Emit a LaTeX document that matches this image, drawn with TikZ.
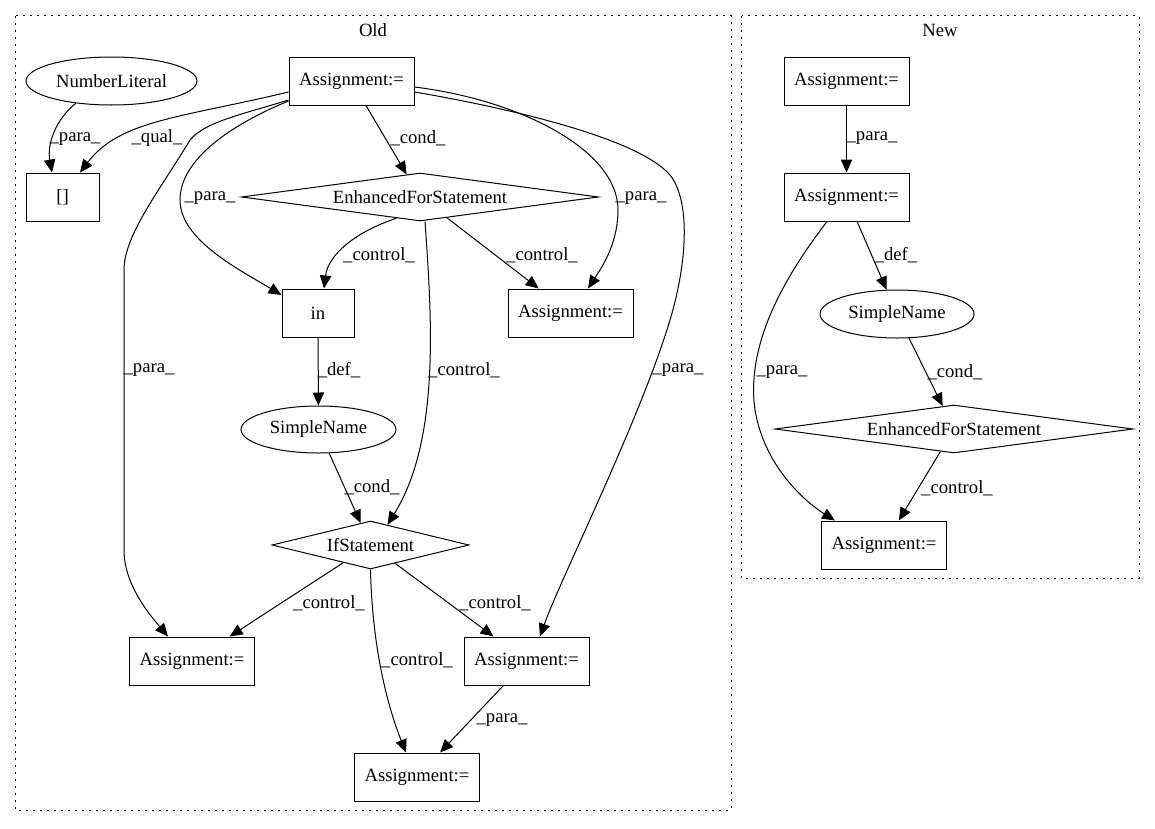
\documentclass[tikz,border=0pt]{standalone}
\usepackage{fontspec}
\setmainfont{Liberation Serif}
\usetikzlibrary{arrows.meta,shapes.geometric}
\begin{document}
\begin{tikzpicture}[x=0.75pt,y=-0.75pt,
  every node/.style={font=\fontsize{14}{16}\selectfont, inner sep=0pt},
  box/.style={draw, line width=0.75pt, rectangle, minimum width=93.75pt, minimum height=36pt},
  oval/.style={draw, line width=0.75pt, ellipse, minimum height=36pt},
  dia/.style={draw, line width=0.75pt, diamond, minimum height=36pt},
  edge/.style={draw, line width=0.75pt, -{Triangle[length=9.75pt,width=8.5pt]}},
  lbl/.style={anchor=center},
  cluster/.style={draw, line width=0.75pt, dash pattern=on 1.5pt off 3.75pt}
]
\useasboundingbox (0,0) rectangle (1155,828);

% clusters
\draw[cluster] (15.7,15.7) rectangle (731,810);
\node (oldlbl) at (373,30) {Old};
\draw[cluster] (741.7,15.7) rectangle (1139,578);
\node (newlbl) at (940,30) {New};

% Old nodes
\node[box] (a1) at (351.5,81) {Assignment:=};
\node[oval, minimum width=128.25pt] (nl) at (111.5,81) {NumberLiteral};
\node[box, minimum width=54.75pt] (br) at (62.5,197) {[]};
\node[dia, minimum width=267.75pt] (efs) at (420,197) {\makebox[0pt]{EnhancedForStatement}};
\node[box, minimum width=54pt] (in) at (318,313) {in};
\node[box] (ar) at (570.5,313) {Assignment:=};
\node[oval, minimum width=116.25pt, minimum height=35.25pt] (osn) at (318.5,429.5) {SimpleName};
\node[dia, minimum width=147.75pt] (ifs) at (370.5,545) {\makebox[0pt]{IfStatement}};
\node[box] (all) at (192,661) {Assignment:=};
\node[box] (alr) at (526.5,661) {Assignment:=};
\node[box] (abot) at (417,777) {Assignment:=};

% New nodes
\node[box] (na1) at (846.5,81) {Assignment:=};
\node[box] (na2) at (846.5,197) {Assignment:=};
\node[oval, minimum width=115.5pt] (nsn) at (897,314) {SimpleName};
\node[dia, minimum width=268.5pt] (nefs) at (954,429) {\makebox[0pt]{EnhancedForStatement}};
\node[box] (na4) at (884,545) {Assignment:=};

% Old edges
\draw[edge] (nl.212) .. controls (55,120) and (47,145) .. ([shift={(-10.5,0)}]br.north);
\draw[edge] ([shift={(0,11)}]a1.west) .. controls (180,118) and (120,120) .. ([shift={(17.5,0)}]br.north);
\draw[edge] ([shift={(0,19)}]a1.west) .. controls (240,115) and (205,122) .. (190,140)
   .. controls (160,190) and (124,235) .. (124,270) -- (124,550)
   .. controls (124,585) and (150,615) .. ([shift={(-24,0)}]all.north);
\draw[edge] ([shift={(0,20)}]a1.west) .. controls (230,125) and (180,160) .. (180,200)
   .. controls (180,240) and (240,270) .. ([shift={(0,-18)}]in.west);
\draw[edge] (a1) -- (efs);
\draw[edge] ([shift={(0,6)}]a1.east) .. controls (520,100) and (618,150) .. (618,210)
   .. controls (618,245) and (600,270) .. ([shift={(17.5,0)}]ar.north);
\draw[edge] ([shift={(0,11)}]a1.east) .. controls (520,110) and (640,140) .. (670,175)
   .. controls (690,200) and (688,260) .. (670,320)
   .. controls (640,420) and (560,580) .. ([shift={(13.5,0)}]alr.north);
\draw[edge] (efs.222) .. controls (355,232) and (328,255) .. ([shift={(6,0)}]in.north);
\draw[edge] (efs) -- (ar);
\draw[edge] ([shift={(5,0)}]efs.south) .. controls (432,320) and (440,440) .. (ifs.50);
\draw[edge] (in) -- (osn);
\draw[edge] (osn) -- (ifs);
\draw[edge] (ifs) -- (all);
\draw[edge] (ifs) -- (alr);
\draw[edge] (ifs.south) .. controls (372,640) and (385,700) .. ([shift={(-11,0)}]abot.north);
\draw[edge] (alr) -- (abot);

% Old labels
\node[lbl] (l1) at (75,139) {\_para\_};
\node[lbl] (l2) at (157,138) {\_qual\_};
\node[lbl] (l3) at (149,370) {\_para\_};
\node[lbl] (l4) at (210,198) {\_para\_};
\node[lbl] (l5) at (418,138) {\_cond\_};
\node[lbl] (l6) at (641,198) {\_para\_};
\node[lbl] (l7) at (678,370) {\_para\_};
\node[lbl] (l8) at (379,255) {\_control\_};
\node[lbl] (l9) at (542,255) {\_control\_};
\node[lbl] (l10) at (464,370) {\_control\_};
\node[lbl] (l11) at (339,370) {\_def\_};
\node[lbl] (l12) at (372,487) {\_cond\_};
\node[lbl] (l13) at (329,603) {\_control\_};
\node[lbl] (l14) at (495,603) {\_control\_};
\node[lbl] (l15) at (417,660) {\_control\_};
\node[lbl] (l16) at (502,720) {\_para\_};

% New edges
\draw[edge] (na1) -- (na2);
\draw[edge] (na2) -- (nsn);
\draw[edge] (nsn) -- (nefs);
\draw[edge] (nefs) -- (na4);
\draw[edge] ([shift={(-19.5,0)}]na2.south) .. controls (790,270) and (745,340) .. (755,410)
   .. controls (765,470) and (810,505) .. ([shift={(-49,0)}]na4.north);

% New labels
\node[lbl] (m1) at (872,138) {\_para\_};
\node[lbl] (m2) at (896,255) {\_def\_};
\node[lbl] (m3) at (955,372) {\_cond\_};
\node[lbl] (m4) at (957,488) {\_control\_};
\node[lbl] (m5) at (782,372) {\_para\_};
\end{tikzpicture}
\end{document}
